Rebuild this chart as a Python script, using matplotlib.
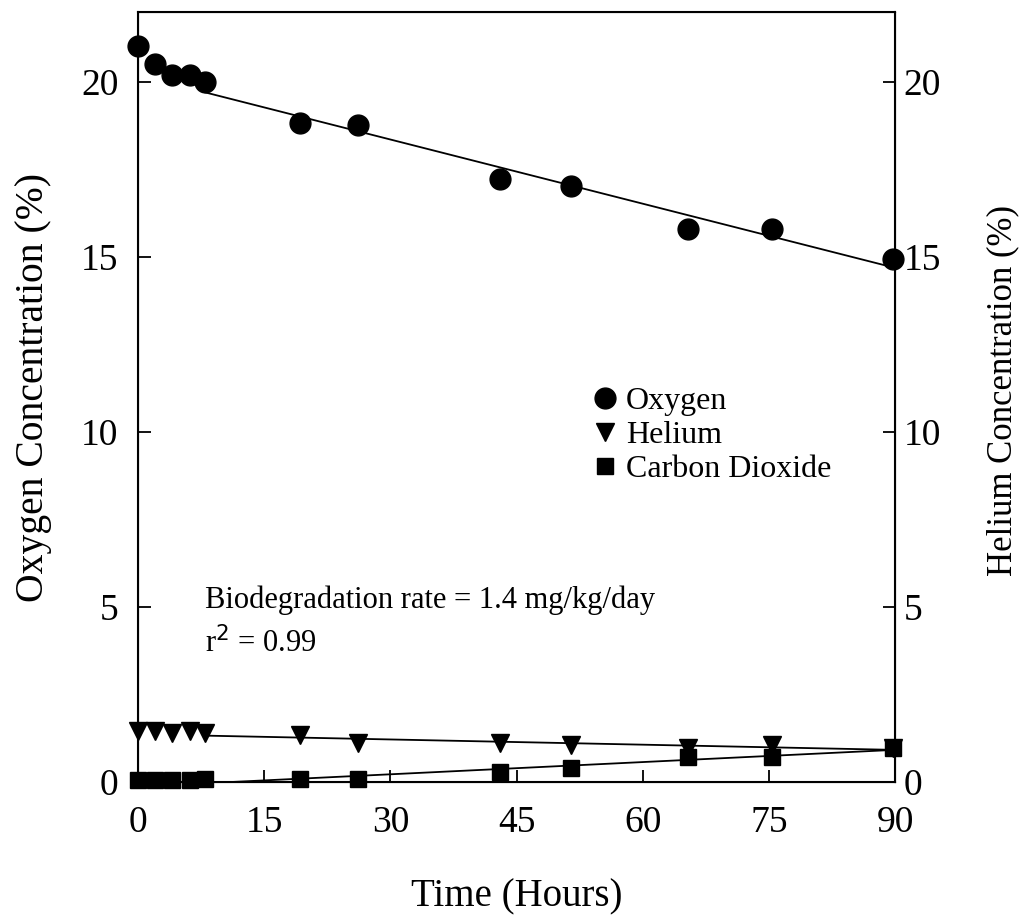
import matplotlib.pyplot as plt
import numpy as np

plt.rcParams['font.family'] = ['Liberation Serif', 'DejaVu Serif']

# time (hours)
time = [0, 2, 4, 6.2, 8, 19.3, 26.2, 43, 51.5, 65.4, 75.4, 89.8]
oxygen = [21.03, 20.5, 20.2, 20.2, 20.0, 18.83, 18.77, 17.22, 17.02, 15.8, 15.8, 14.94]
helium = [1.45, 1.45, 1.4, 1.45, 1.4, 1.35, 1.12, 1.12, 1.06, 0.97, 1.06, 0.97]
co2 = [0.05, 0.05, 0.05, 0.05, 0.08, 0.1, 0.1, 0.3, 0.4, 0.72, 0.72, 0.97]

# the fitted lines use the points from 8 h onward
fit_start = 4

fig = plt.figure(figsize=(10.21, 9.19), dpi=100)
ax = fig.add_axes([0.1352, 0.149, 0.7414, 0.838])

t = np.array(time)
tf = t[fit_start:]
xs = np.array([tf.min(), tf.max()])
for vals in (oxygen, helium, co2):
    p = np.polyfit(tf, np.array(vals)[fit_start:], 1)
    ax.plot(xs, np.polyval(p, xs), color='black', lw=1.3, zorder=2)

ax.plot(time, oxygen, 'o', color='black', ms=15, label='Oxygen', zorder=3, clip_on=False)
ax.plot(time, helium, 'v', color='black', ms=13, label='Helium', zorder=3, clip_on=False)
ax.plot(time, co2, 's', color='black', ms=12, label='Carbon Dioxide', zorder=3, clip_on=False)

ax.set_xlim(0, 90)
ax.set_ylim(0, 22)
ax.set_xticks([0, 15, 30, 45, 60, 75, 90])
ax.set_yticks([0, 5, 10, 15, 20])
ax.tick_params(direction='in', length=9, width=1.3, labelsize=27)
ax.tick_params(axis='x', pad=17)
ax.tick_params(axis='y', pad=14)
for s in ax.spines.values():
    s.set_linewidth(1.5)

ax2 = ax.twinx()
ax2.set_ylim(0, 22)
ax2.set_yticks([0, 5, 10, 15, 20])
ax2.tick_params(direction='in', length=9, width=1.3, labelsize=27, pad=6)

ax.set_xlabel('Time (Hours)', fontsize=28)
ax.xaxis.set_label_coords(0.5, -0.125)
ax.set_ylabel('Oxygen Concentration (%)', fontsize=28.5)
ax.yaxis.set_label_coords(-0.114, 0.512)
ax2.set_ylabel('Helium Concentration (%)', fontsize=25, rotation=90)
ax2.yaxis.set_label_coords(1.12, 0.509)

ax.legend(loc='upper left', bbox_to_anchor=(0.579, 0.53), frameon=False,
          fontsize=23, handletextpad=0.15, labelspacing=0.15, handlelength=1.0,
          borderaxespad=0)

ax.text(0.088, 0.236, 'Biodegradation rate = 1.4 mg/kg/day', transform=ax.transAxes,
        fontsize=22, va='center')
ax.text(0.088, 0.18, r'r$^{2}$ = 0.99', transform=ax.transAxes, fontsize=22, va='center')

fig.savefig('out.png', dpi=100)
